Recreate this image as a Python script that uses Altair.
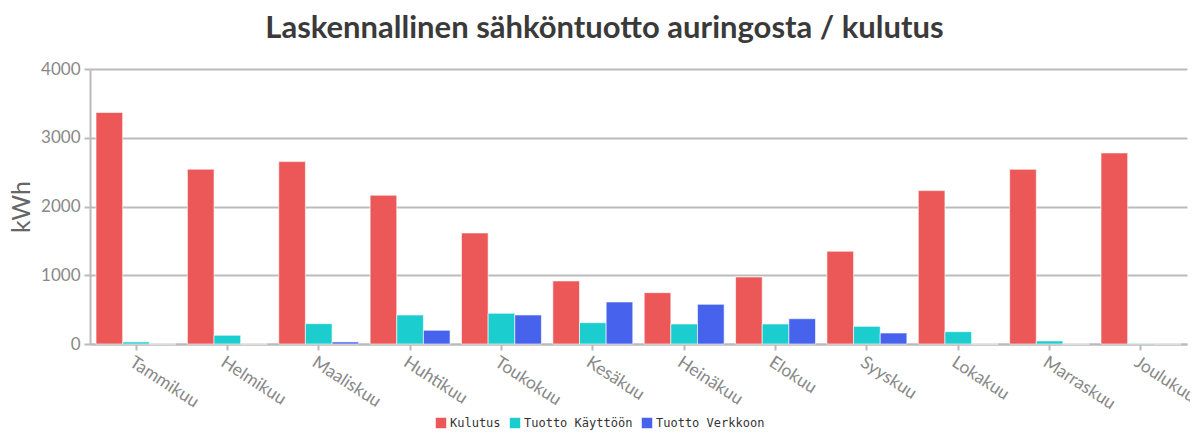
import altair as alt
import pandas as pd

months = ["Tammikuu", "Helmikuu", "Maaliskuu", "Huhtikuu", "Toukokuu", "Kesäkuu",
          "Heinäkuu", "Elokuu", "Syyskuu", "Lokakuu", "Marraskuu", "Joulukuu"]
series = ["Kulutus", "Tuotto Käyttöön", "Tuotto Verkkoon"]
colors = ["#EC5858", "#1CCDD0", "#4763EE"]

kulutus = [3367, 2543, 2653, 2164, 1615, 917, 747, 975, 1349, 2231, 2541, 2779]
kayttoon = [30, 127, 296, 422, 447, 310, 291, 291, 257, 179, 44, 5]
verkkoon = [0, 0, 30, 200, 422, 611, 577, 368, 160, 0, 0, 0]

rows = []
for name, vals in zip(series, [kulutus, kayttoon, verkkoon]):
    for m, v in zip(months, vals):
        rows.append({"Kuukausi": m, "Sarja": name, "kWh": v})
df = pd.DataFrame(rows)

bars = alt.Chart(df).mark_bar(stroke="#ffffff", strokeWidth=1, strokeOpacity=0.6).encode(
    x=alt.X("Kuukausi:N", sort=months, title=None,
            scale=alt.Scale(paddingInner=0.125, paddingOuter=0.066),
            axis=alt.Axis(labelAngle=33, labelAlign="left", labelBaseline="top",
                          labelFont="Lato", labelFontSize=17.5, labelColor="#888888",
                          labelPadding=3, domain=True, domainColor="#bbbbbb",
                          domainWidth=2, ticks=True, tickColor="#bbbbbb",
                          tickSize=6, tickWidth=2, grid=False)),
    xOffset=alt.XOffset("Sarja:N", sort=series, scale=alt.Scale(paddingInner=0, paddingOuter=0)),
    y=alt.Y("kWh:Q", title="kWh",
            scale=alt.Scale(domain=[0, 4000]),
            axis=alt.Axis(values=[0, 1000, 2000, 3000, 4000], format="d", labelFont="Lato",
                          labelFontSize=17, labelColor="#888888", labelPadding=4,
                          titleFont="Lato", titleFontSize=25, titleFontWeight="normal",
                          titleColor="#666666", titlePadding=6,
                          domain=True, domainColor="#bbbbbb", domainWidth=2,
                          ticks=True, tickColor="#bbbbbb", tickSize=6, tickWidth=2,
                          grid=True, gridColor="#bbbbbb", gridWidth=2)),
    color=alt.Color("Sarja:N", sort=series, title=None,
                    scale=alt.Scale(domain=series, range=colors),
                    legend=alt.Legend(orient="none", legendX=345, legendY=348,
                                      direction="horizontal", symbolType="square",
                                      symbolSize=110, symbolStrokeWidth=0,
                                      labelFont="DejaVu Sans Mono", labelFontSize=12,
                                      labelColor="#333333", columnPadding=8,
                                      labelOffset=3)),
).properties(
    width=1097,
    height=275,
    title=alt.TitleParams("Laskennallinen sähköntuotto auringosta / kulutus",
                          font="Lato", fontSize=31, fontWeight="bold", color="#3a3a3a",
                          anchor="middle", dx=-34, offset=15),
    autosize=alt.AutoSizeParams(type="none"),
    padding={"left": 82, "top": 61, "right": 3, "bottom": 86},
).configure_view(stroke=None)

bars.save("out.html", embed_options={"renderer": "svg", "actions": False})
